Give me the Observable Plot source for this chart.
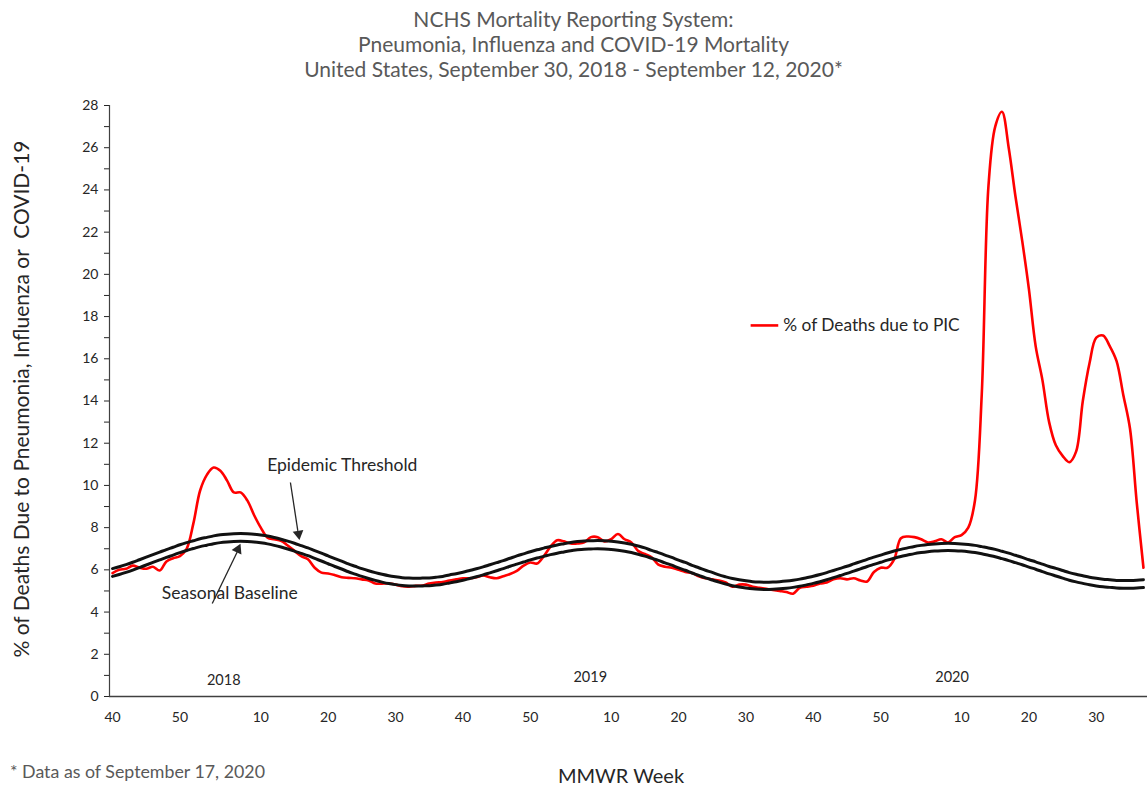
<!DOCTYPE html>
<html>
<head>
<meta charset="utf-8">
<script src="https://cdn.jsdelivr.net/npm/d3@7"></script>
<script src="https://cdn.jsdelivr.net/npm/@observablehq/plot@0.6"></script>
<style>
  html, body { margin: 0; padding: 0; background: #fff; }
  body { width: 1147px; height: 788px; position: relative; overflow: hidden; font-family: Lato, "Open Sans", sans-serif; }
  #title { padding-top: 6px; height: 79px; box-sizing: border-box; text-align: center; color: #595959; font-size: 21px; line-height: 25px; }
  #chart { position: absolute; left: 0; top: 85px; }
  #foot { position: absolute; left: 10px; top: 760px; font-size: 17.8px; line-height: 22px; color: #595959; }
  #xlab { position: absolute; left: 621px; top: 763px; transform: translateX(-50%); font-size: 20px; line-height: 24px; color: #262626; white-space: nowrap; }
</style>
</head>
<body>
<div id="title">NCHS Mortality Reporting System:<br>Pneumonia, Influenza and COVID-19 Mortality<br>United States, September 30, 2018 - September 12, 2020*</div>
<div id="chart"></div>
<div id="foot">* Data as of September 17, 2020</div>
<div id="xlab">MMWR Week</div>
<script>
// MMWR weeks shown on the axis: 2017 wk 40 – 2020 wk 37
const seasons = [
  {year: 2017, first: 40, last: 52},
  {year: 2018, first: 1, last: 52},
  {year: 2019, first: 1, last: 52},
  {year: 2020, first: 1, last: 37}
];
const weeks = seasons.flatMap(s => d3.range(s.first, s.last + 1).map(w => ({year: s.year, week: w})));

// % of deaths due to PIC (weekly)
const pic = [
  5.85,6.0,6.05,6.2,6.1,6.05,6.15,5.97,6.4,6.55,
  6.65,7.0,8.2,9.76,10.5,10.85,10.7,10.23,9.67,9.67,
  9.29,8.6,8.0,7.53,7.45,7.38,7.15,6.9,6.65,6.5,
  6.1,5.87,5.83,5.75,5.65,5.62,5.6,5.55,5.5,5.35,
  5.35,5.35,5.3,5.22,5.2,5.24,5.26,5.35,5.4,5.42,
  5.5,5.55,5.6,5.6,5.65,5.73,5.65,5.6,5.7,5.8,
  5.95,6.2,6.35,6.3,6.65,7.1,7.4,7.35,7.25,7.25,
  7.3,7.55,7.55,7.35,7.45,7.7,7.45,7.3,6.9,6.75,
  6.6,6.25,6.15,6.1,6.0,5.9,5.85,5.7,5.6,5.55,
  5.5,5.4,5.2,5.3,5.3,5.2,5.15,5.1,5.05,5.0,
  4.95,4.87,5.15,5.2,5.25,5.35,5.4,5.55,5.6,5.55,
  5.6,5.5,5.45,5.9,6.1,6.1,6.5,7.5,7.58,7.55,
  7.45,7.3,7.35,7.45,7.3,7.55,7.65,8.0,9.3,14.3,
  24.2,27.0,27.7,26.0,23.7,21.6,19.3,16.6,15.0,13.0,
  11.9,11.4,11.1,11.6,14.0,15.8,17.0,17.1,16.6,15.9,
  14.3,12.7,9.2,6.1
];

// Seasonal baseline (weekly)
const baseline = [
  5.69,5.78,5.88,5.99,6.11,6.23,6.35,6.47,6.59,6.70,
  6.82,6.92,7.01,7.10,7.17,7.24,7.29,7.32,7.34,7.35,
  7.34,7.32,7.28,7.23,7.16,7.08,6.99,6.89,6.78,6.67,
  6.54,6.42,6.29,6.16,6.04,5.91,5.80,5.69,5.59,5.50,
  5.42,5.35,5.30,5.26,5.24,5.23,5.24,5.25,5.28,5.32,
  5.38,5.44,5.51,5.59,5.67,5.76,5.86,5.96,6.06,6.17,
  6.27,6.37,6.47,6.56,6.64,6.72,6.79,6.85,6.91,6.95,
  6.98,6.99,7.00,6.99,6.97,6.93,6.88,6.82,6.74,6.65,
  6.55,6.45,6.33,6.22,6.09,5.98,5.85,5.74,5.62,5.52,
  5.42,5.33,5.25,5.19,5.14,5.10,5.08,5.07,5.08,5.10,
  5.13,5.17,5.22,5.29,5.36,5.44,5.53,5.63,5.73,5.83,
  5.94,6.05,6.16,6.26,6.36,6.46,6.55,6.63,6.70,6.77,
  6.82,6.86,6.89,6.91,6.92,6.91,6.89,6.86,6.82,6.76,
  6.69,6.62,6.53,6.44,6.34,6.24,6.13,6.03,5.92,5.81,
  5.71,5.61,5.51,5.43,5.36,5.29,5.24,5.20,5.17,5.14,
  5.13,5.13,5.14,5.16
];

// Epidemic threshold (weekly)
const threshold = [
  6.06,6.15,6.25,6.36,6.48,6.60,6.72,6.84,6.96,7.07,
  7.19,7.29,7.38,7.47,7.54,7.61,7.66,7.69,7.71,7.72,
  7.71,7.69,7.65,7.60,7.53,7.45,7.36,7.26,7.15,7.04,
  6.91,6.79,6.66,6.53,6.41,6.28,6.17,6.06,5.96,5.87,
  5.79,5.72,5.67,5.63,5.61,5.60,5.61,5.62,5.65,5.69,
  5.76,5.82,5.89,5.97,6.05,6.14,6.24,6.34,6.44,6.55,
  6.66,6.76,6.86,6.95,7.03,7.11,7.18,7.24,7.30,7.34,
  7.37,7.38,7.39,7.38,7.36,7.32,7.27,7.21,7.13,7.04,
  6.92,6.82,6.70,6.59,6.46,6.35,6.21,6.10,5.98,5.88,
  5.76,5.67,5.59,5.53,5.48,5.44,5.42,5.41,5.42,5.44,
  5.47,5.51,5.56,5.63,5.70,5.78,5.87,5.97,6.07,6.17,
  6.28,6.39,6.50,6.60,6.70,6.80,6.89,6.97,7.04,7.11,
  7.16,7.20,7.23,7.25,7.26,7.25,7.23,7.20,7.16,7.10,
  7.04,6.97,6.88,6.79,6.69,6.59,6.48,6.38,6.27,6.16,
  6.07,5.97,5.87,5.79,5.72,5.65,5.60,5.56,5.53,5.50,
  5.50,5.50,5.51,5.53
];

const yTicks = d3.range(0, 29, 1);
const yearLabels = [
  {label: "2018", at: 16.5, v: 0.76},
  {label: "2019", at: 70.9, v: 0.9},
  {label: "2020", at: 124.6, v: 0.9}
];
const notes = [
  {label: "Epidemic Threshold", at: 34.1, v: 10.94},
  {label: "Seasonal Baseline", at: 17.4, v: 4.88}
];
const pointers = [
  {x1: 26.4, y1: 10.14, x2: 27.5, y2: 7.85, tipX: 27.6, tipY: 7.7, angle: 171},
  {x1: 14.8, y1: 4.41, x2: 18.5, y2: 6.85, tipX: 18.6, tipY: 6.97, angle: 25}
];
const legendItems = [{label: "% of Deaths due to PIC", x1: 94.7, x2: 98.8, v: 17.58, color: "#ff0000"}];
const yTitle = "% of Deaths Due to Pneumonia, Influenza or  COVID-19";

const rows = weeks.map((w, i) => ({i, ...w, pic: pic[i], baseline: baseline[i], threshold: threshold[i]}));
const xTicks = rows.filter(d => d.week % 10 === 0).map(d => d.i);
const xMin = -0.45, xMax = 153.6;

const chart = Plot.plot({
  width: 1147,
  height: 665,
  marginLeft: 109,
  marginRight: 0,
  marginTop: 20,
  marginBottom: 54,
  style: {fontFamily: "Lato, 'Open Sans', sans-serif", fontSize: "14px", color: "#262626", background: "white", overflow: "visible"},
  x: {domain: [xMin, xMax], ticks: xTicks, tickFormat: i => String(weeks[i].week), tickSize: 0, tickPadding: 16, label: null},
  y: {domain: [0, 28], ticks: yTicks, tickFormat: d => d % 2 ? "" : String(d), tickSize: 5, tickPadding: 6, label: null},
  marks: [
    Plot.ruleX([xMin], {y1: 0, y2: 28, stroke: "#404040", strokeWidth: 1.2}),
    Plot.ruleY([0], {stroke: "#404040", strokeWidth: 1.6}),
    Plot.line(rows, {x: "i", y: "pic", stroke: "#ff0000", strokeWidth: 2.6, curve: "catmull-rom"}),
    Plot.line(rows, {x: "i", y: "baseline", stroke: "#111", strokeWidth: 3, curve: "catmull-rom"}),
    Plot.line(rows, {x: "i", y: "threshold", stroke: "#111", strokeWidth: 3, curve: "catmull-rom"}),
    Plot.text(yearLabels, {x: "at", y: "v", text: "label", fontSize: 14.5, fill: "#262626"}),
    Plot.text(notes, {x: "at", y: "v", text: "label", fontSize: 17.5, fill: "#262626"}),
    Plot.link(pointers, {x1: "x1", y1: "y1", x2: "x2", y2: "y2", stroke: "#262626", strokeWidth: 1.3}),
    Plot.dot(pointers, {x: "tipX", y: "tipY", symbol: "triangle", r: 4, rotate: "angle", fill: "#262626", stroke: "none"}),
    Plot.link(legendItems, {x1: "x1", x2: "x2", y1: "v", y2: "v", stroke: "color", strokeWidth: 2.6}),
    Plot.text(legendItems, {x: "x2", y: "v", text: "label", dx: 5, textAnchor: "start", fontSize: 17.3, fill: "#262626"}),
    Plot.text([yTitle], {frameAnchor: "left", textAnchor: "middle", dx: -87, dy: -2, rotate: -90, fontSize: 21, fill: "#262626"})
  ]
});
document.getElementById("chart").appendChild(chart);
</script>
</body>
</html>
